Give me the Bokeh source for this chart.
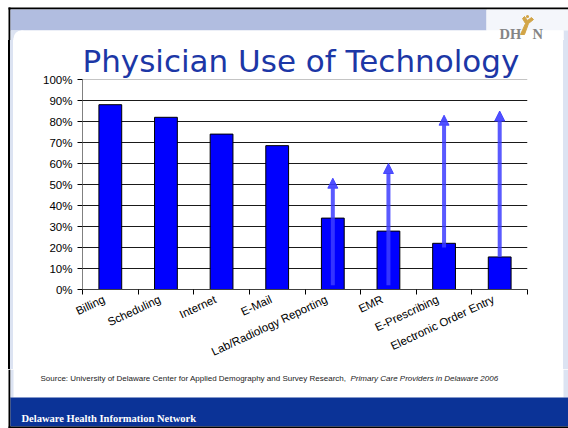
from bokeh.plotting import figure
from bokeh.layouts import column, row
from bokeh.models import (Range1d, FixedTicker, NumeralTickFormatter, Label, Arrow,
                          NormalHead, ColumnDataSource, Span)
from bokeh.embed import file_html
from bokeh.resources import INLINE

# ---------------- data ----------------
categories = ["Billing", "Scheduling", "Internet", "E-Mail",
              "Lab/Radiology Reporting", "EMR", "E-Prescribing",
              "Electronic Order Entry"]
usage = [0.88, 0.82, 0.74, 0.685, 0.34, 0.278, 0.22, 0.155]

arrow_categories = ["Lab/Radiology Reporting", "EMR", "E-Prescribing",
                    "Electronic Order Entry"]
arrow_start = [0.02, 0.02, 0.20, 0.155]
arrow_end = [0.53, 0.60, 0.83, 0.85]

y_ticks = [0.0, 0.1, 0.2, 0.3, 0.4, 0.5, 0.6, 0.7, 0.8, 0.9, 1.0]

title_text = "Physician Use of Technology"
source_text = "Source: University of Delaware Center for Applied Demography and Survey Research,"
source_italic = "Primary Care Providers in Delaware 2006"
footer_text = "Delaware Health Information Network"

# ---------------- layout (page pixels, page origin at 0,0) ----------------
PAGE_W, PAGE_H = 568, 428
HEAD_B = 40          # bottom of the header figure
CHART_B = 369        # bottom of the chart figure
PANEL_L, PANEL_R = 13, 563
FRAME_L, FRAME_R, FRAME_T, FRAME_B = 82, 527, 79, 289
LABEL_SHIFT = 0.11   # rotated category labels sit a little left of the bar centre

BLACK = "black"
LIGHT = "#dce3f2"
LAVENDER = "#b1bde0"
NAVY = "#0b3397"
GOLD = "#d2a548"


def deco_figure(x0, x1, y0, y1):
    f = figure(width=x1 - x0, height=y1 - y0, output_backend="svg",
               toolbar_location=None, x_range=Range1d(x0, x1), y_range=Range1d(y1, y0),
               x_axis_location=None, y_axis_location=None,
               min_border=0, min_border_left=0, min_border_right=0,
               min_border_top=0, min_border_bottom=0)
    f.grid.visible = False
    f.outline_line_color = None
    f.background_fill_color = "white"
    f.border_fill_color = "white"
    return f


def rect(f, l, r, t, b, color):
    f.quad(left=l, right=r, top=t, bottom=b, fill_color=color, line_color=None)


def label(f, x, y, text, **kw):
    f.add_layout(Label(x=x, y=y, text=text, text_baseline="alphabetic", **kw))


# ---- header ----
head = deco_figure(0, PAGE_W, 0, HEAD_B)
rect(head, 8, PAGE_W, 7, 9, BLACK)
rect(head, 8, 10, 7, HEAD_B, BLACK)
rect(head, 10, 486, 9, 30, LAVENDER)
rect(head, 486, PAGE_W, 9, 30, "#f4f6fb")
rect(head, 10, 22, 30, HEAD_B, LIGHT)
rect(head, PANEL_R, PAGE_W, 30, HEAD_B, LIGHT)
rect(head, 21, PANEL_R, 30, HEAD_B, "white")
rect(head, PANEL_L, PANEL_R, 38, HEAD_B, "white")
head.circle(x=[21], y=[38], radius=8, fill_color="white", line_color=None)
label(head, 499, 33, "DH", text_font="Liberation Serif", text_font_size="14.5px",
      text_font_style="bold", text_color="#858585")
head.patch(x=[520, 524, 528, 533, 531, 527, 524, 522, 525],
           y=[34, 34, 23, 19, 17, 20, 16, 18, 23],
           fill_color=GOLD, line_color=GOLD, line_width=1)
head.circle(x=[527], y=[16], radius=1.6, fill_color=GOLD, line_color=None)
label(head, 532, 33, "N", text_font="Liberation Serif", text_font_size="14.5px",
      text_font_style="bold", text_color="#858585")

# ---- chart ----
n = len(categories)
centers = [i + 0.5 for i in range(n)]
boundaries = list(range(n + 1))
label_ticks = [c - LABEL_SHIFT for c in centers]

side_bg = ("linear-gradient(to right, white 0px, white 8px, black 8px, black 10px, "
           f"{LIGHT} 10px, {LIGHT} {PANEL_L}px, white {PANEL_L}px, white {PANEL_R}px, "
           f"{LIGHT} {PANEL_R}px, {LIGHT} {PAGE_W}px)")

p = figure(width=PAGE_W, height=CHART_B - HEAD_B, output_backend="svg",
           toolbar_location=None, x_range=Range1d(0, n), y_range=Range1d(0, 1),
           min_border_left=FRAME_L, min_border_right=PAGE_W - FRAME_R,
           min_border_top=FRAME_T - HEAD_B, min_border_bottom=CHART_B - FRAME_B,
           styles={"background": side_bg})
p.background_fill_color = "white"
p.border_fill_alpha = 0
p.outline_line_color = None

p.title.text = title_text
p.title.text_font = "DejaVu Sans"
p.title.text_font_size = "31px"
p.title.text_font_style = "normal"
p.title.text_color = "#1c37a6"
p.title.align = "left"
p.title.offset = 0
p.title.standoff = 1

src = ColumnDataSource(dict(x=centers, top=usage, cat=categories))
p.vbar(x="x", top="top", width=0.41, source=src, fill_color="#0000ff",
       line_color="black", line_width=1)

arr_x = [centers[categories.index(c)] for c in arrow_categories]
asrc = ColumnDataSource(dict(x=arr_x, y0=arrow_start, y1=arrow_end))
p.add_layout(Arrow(end=NormalHead(size=10, fill_color="#3d3dff", line_color="#3d3dff",
                                  fill_alpha=0.9, line_alpha=0.9),
                   source=asrc, x_start="x", y_start="y0", x_end="x", y_end="y1",
                   line_width=4, line_color="#3d3dff", line_alpha=0.85))

p.xgrid.visible = False
p.ygrid.ticker = FixedTicker(ticks=y_ticks[1:-1])
p.ygrid.grid_line_color = "#1a1a1a"
p.ygrid.grid_line_width = 1
p.add_layout(Span(location=y_ticks[-1], dimension="width", line_color="#8a8a8a",
                  line_width=1))

ya = p.yaxis[0]
ya.ticker = FixedTicker(ticks=y_ticks)
ya.formatter = NumeralTickFormatter(format="0%")
ya.axis_line_color = "#808080"
ya.major_tick_line_color = "black"
ya.major_tick_out = 5
ya.major_tick_in = 0
ya.minor_tick_line_color = None
ya.major_label_standoff = 5
ya.major_label_text_font = "Liberation Sans"
ya.major_label_text_font_size = "11.5px"
ya.major_label_text_color = "black"

xa = p.xaxis[0]
xa.ticker = FixedTicker(ticks=label_ticks, minor_ticks=boundaries)
xa.major_label_overrides = {t: lab for t, lab in zip(label_ticks, categories)}
xa.axis_line_color = "#404040"
xa.major_tick_line_color = None
xa.major_tick_out = 0
xa.major_tick_in = 0
xa.minor_tick_line_color = "black"
xa.minor_tick_out = 5
xa.minor_tick_in = 0
xa.major_label_orientation = 0.44
xa.major_label_standoff = 4
xa.major_label_text_font = "Liberation Sans"
xa.major_label_text_font_size = "11.5px"
xa.major_label_text_color = "black"

# ---- footer ----
foot = deco_figure(0, PAGE_W, CHART_B, PAGE_H)
rect(foot, 8, 10, CHART_B, PAGE_H, BLACK)
rect(foot, 10, PANEL_L, CHART_B, 397, LIGHT)
rect(foot, PANEL_R, PAGE_W, CHART_B, 397, LIGHT)
rect(foot, 10, PAGE_W, 397, 426, NAVY)
rect(foot, 8, PAGE_W, 426, PAGE_H, BLACK)
label(foot, 40, 378, source_text, text_font="Liberation Sans", text_font_size="8px",
      text_color="#222222")
label(foot, 350, 378, source_italic, text_font="Liberation Sans", text_font_size="8px",
      text_font_style="italic", text_color="#222222")
label(foot, 21, 418, footer_text, text_font="Liberation Serif", text_font_size="10.5px",
      text_font_style="bold", text_color="white")

# the chart sits in its own row so its frame is not aligned with the slide bands
layout = column(head, row(p, spacing=0), foot, spacing=0)
open("out.html", "w").write(file_html(layout, INLINE))
